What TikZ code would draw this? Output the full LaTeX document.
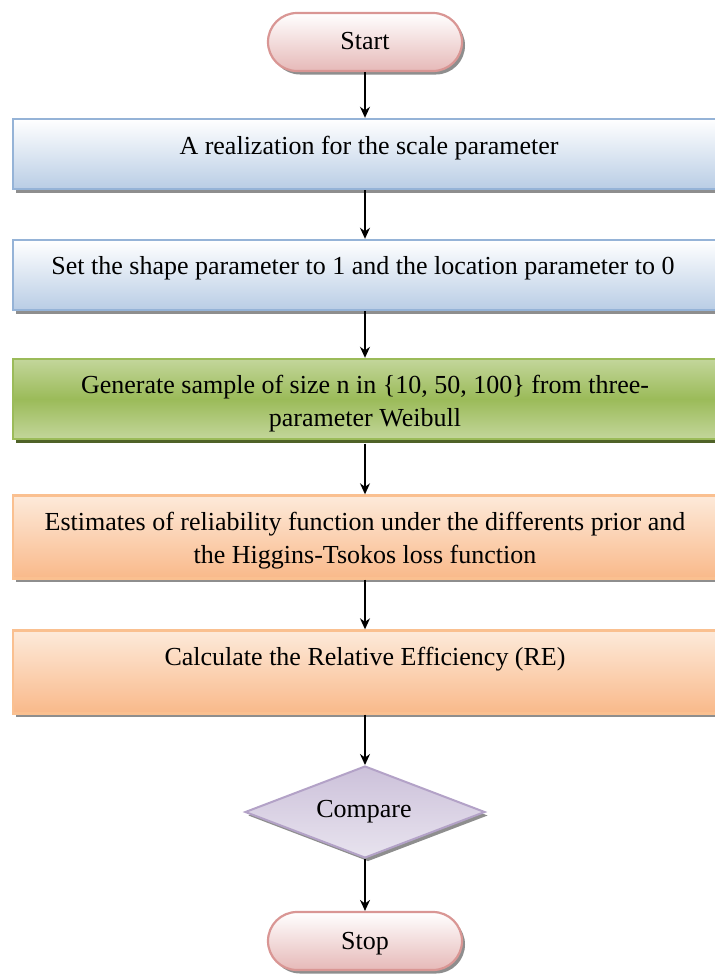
\documentclass[tikz,border=0pt]{standalone}
\usepackage{fontspec}
\setmainfont{Liberation Serif}
\usetikzlibrary{shapes.geometric,arrows.meta}

\definecolor{pinkEdge}{HTML}{D99694}
\definecolor{pinkFill}{HTML}{E6B9B8}
\definecolor{blueEdge}{HTML}{95B3D7}
\definecolor{blueFill}{HTML}{B9CDE5}
\definecolor{greenEdge}{HTML}{9BBB59}
\definecolor{greenLight}{HTML}{C3D69B}
\definecolor{greenMid}{HTML}{9BBB59}
\definecolor{greenShadow}{HTML}{4F6228}
\definecolor{orangeEdge}{HTML}{FAC090}
\definecolor{orangeLight}{HTML}{FDEADA}
\definecolor{orangeDeep}{HTML}{F9B98A}
\definecolor{lilacEdge}{HTML}{B3A2C7}
\definecolor{lilacFill}{HTML}{CCC1DA}
\definecolor{shadowGray}{HTML}{8E8E8E}

\tikzset{
  castshadow/.style={preaction={fill=#1, transform canvas={xshift=3pt,yshift=-3.5pt}}},
  terminal/.style={rectangle, rounded corners=29pt, draw=pinkEdge, line width=2.2pt,
    top color=white, bottom color=pinkFill, minimum width=194pt, minimum height=58pt,
    inner sep=0pt, castshadow=shadowGray},
  blueproc/.style={rectangle, draw=blueEdge, line width=2.4pt, top color=white,
    bottom color=blueFill, minimum width=704pt, minimum height=70pt, inner sep=0pt,
    castshadow=shadowGray},
  greenproc/.style={rectangle, draw=greenEdge, line width=2.4pt, top color=greenLight,
    bottom color=greenLight, middle color=greenMid, minimum width=704pt,
    minimum height=80pt, inner sep=0pt, castshadow=greenShadow},
  orangeproc/.style={rectangle, draw=orangeEdge, line width=2.4pt, top color=orangeLight,
    bottom color=orangeDeep, minimum width=704pt, minimum height=83pt, inner sep=0pt,
    castshadow=shadowGray},
  decision/.style={diamond, draw=lilacEdge, line width=2pt, top color=lilacFill,
    bottom color=lilacFill!45, minimum width=240pt, minimum height=92pt, inner sep=0pt,
    castshadow=shadowGray},
  txt/.style={font=\fontsize{26}{33}\selectfont, align=center, inner sep=0pt},
  flow/.style={line width=1.6pt, -{Stealth[length=11pt,width=10pt]}}
}

\begin{document}
\begin{tikzpicture}[x=1pt,y=-1pt]
\useasboundingbox (0,0) rectangle (715,978);

% shapes
\node[terminal]   (start) at (365,42)  {};
\node[blueproc]   (b1)    at (365,154) {};
\node[blueproc]   (b2)    at (365,275) {};
\node[greenproc]  (b3)    at (365,399) {};
\node[orangeproc] (b4)    at (365,537) {};
\node[orangeproc] (b5)    at (365,672) {};
\node[decision]   (cmp)   at (365,812) {};
\node[terminal]   (stop)  at (365,941) {};

% labels
\node[txt] (tstart) at (365,41)  {Start};
\node[txt] (t1)     at (369,148) {A realization for the scale parameter};
\node[txt] (t2)     at (363,268) {Set the shape parameter to 1 and the location parameter to 0};
\node[txt] (t3)     at (365,404) {Generate sample of size n in \{10, 50, 100\} from three-\\parameter Weibull};
\node[txt] (t4)     at (365,541) {Estimates of reliability function under the differents prior and\\the Higgins-Tsokos loss function};
\node[txt] (t5)     at (365,659) {Calculate the Relative Efficiency (RE)};
\node[txt] (tcmp)   at (364,812) {Compare};
\node[txt] (tstop)  at (365,944) {Stop};

% connectors
\draw[flow] (start.south) -- (b1.north);
\draw[flow] (b1.south) -- (b2.north);
\draw[flow] (b2.south) -- (b3.north);
\draw[flow] ([yshift=-3.5pt]b3.south) -- (b4.north);
\draw[flow] (b4.south) -- (b5.north);
\draw[flow] (b5.south) -- (cmp.north);
\draw[flow] (cmp.south) -- (stop.north);
\end{tikzpicture}
\end{document}
